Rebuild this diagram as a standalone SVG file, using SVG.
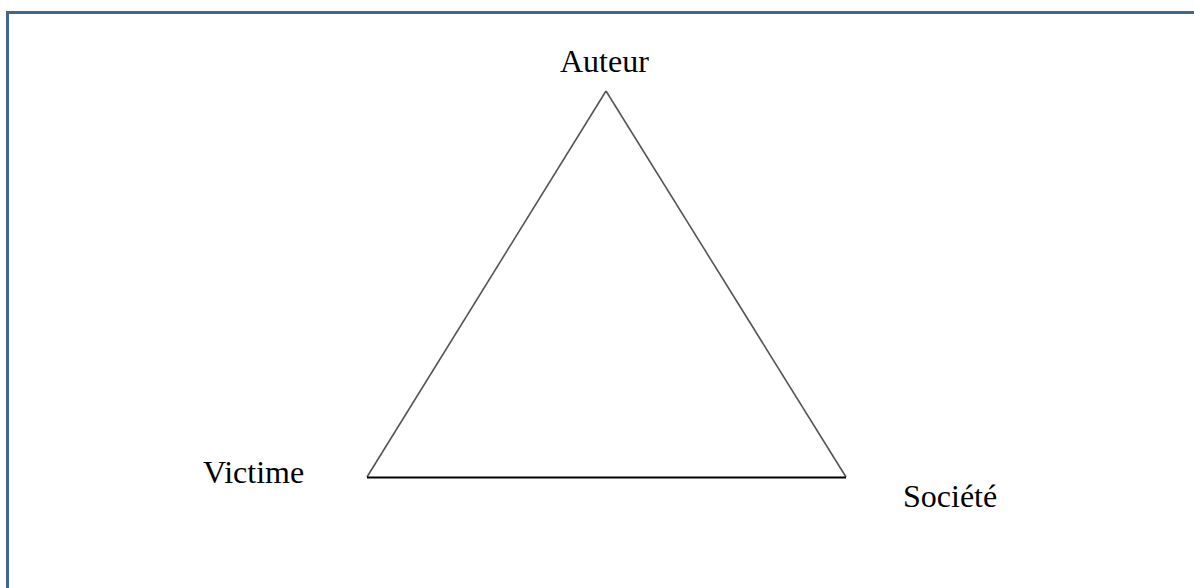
<svg xmlns="http://www.w3.org/2000/svg" width="1194" height="588" viewBox="0 0 1194 588">
<style>
.lbl{font-family:"Liberation Serif","Times New Roman",serif;font-size:32px;fill:#000}
.frame{fill:none;stroke:#41658f;stroke-width:3}
.side{stroke:#555;stroke-width:1.6;fill:none}
.base{stroke:#000;stroke-width:2;fill:none}
</style>
<rect width="1194" height="588" fill="#fff"/>
<path class="frame" d="M7.5,588 V12.5 H1194"/>
<g id="connectors">
<line class="side" x1="606" y1="91" x2="367" y2="477"/>
<line class="side" x1="606" y1="91" x2="846" y2="477"/>
<line class="base" x1="367" y1="477.5" x2="846" y2="477.5"/>
</g>
<g id="auteur"><text class="lbl" x="560" y="72">Auteur</text></g>
<g id="victime"><text class="lbl" x="203" y="483">Victime</text></g>
<g id="societe"><text class="lbl" x="903" y="507">Société</text></g>
</svg>
